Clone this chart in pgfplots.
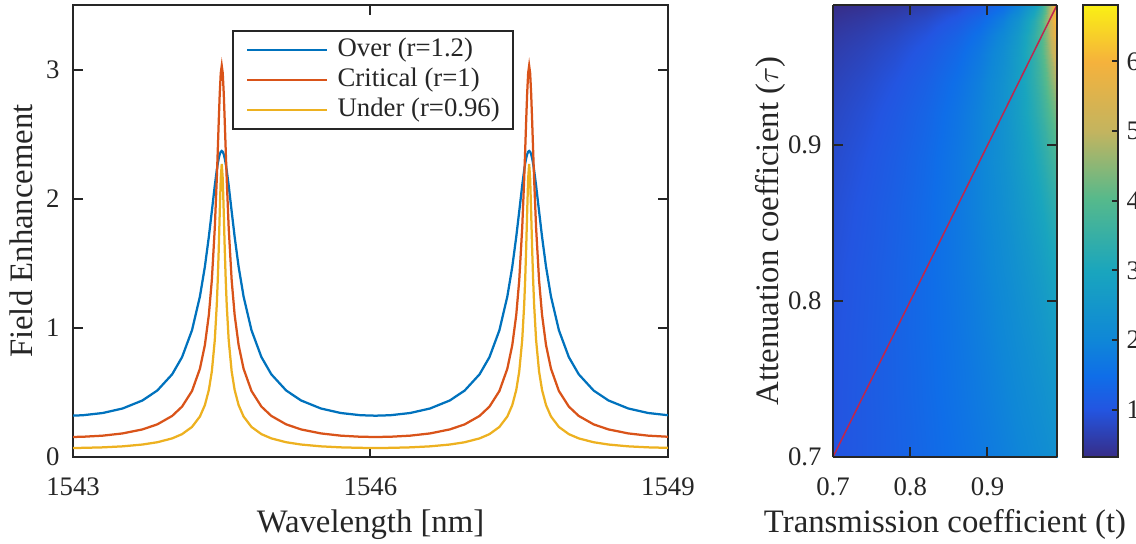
\documentclass[border=0pt]{standalone}
\usepackage{fontspec}
\setmainfont{Liberation Serif}
\usepackage{pgfplots}
\usepackage{pgfplotstable}
\pgfplotsset{compat=1.18}
\definecolor{mblue}{rgb}{0,0.447,0.741}
\definecolor{mred}{rgb}{0.85,0.325,0.098}
\definecolor{myel}{rgb}{0.929,0.694,0.125}
\definecolor{axc}{rgb}{0.15,0.15,0.15}
\definecolor{diag}{rgb}{0.75,0.15,0.3}
\pgfplotsset{/pgf/number format/assume math mode=true}

\pgfplotstableread{
x blue red yellow
1543.00 0.3203 0.1552 0.0701
1543.10 0.3235 0.1568 0.0708
1543.30 0.3407 0.1653 0.0747
1543.50 0.3756 0.1826 0.0825
1543.70 0.4377 0.2136 0.0966
1543.85 0.5148 0.2527 0.1143
1544.00 0.6404 0.3181 0.1441
1544.10 0.7737 0.3904 0.1771
1544.20 0.9815 0.5111 0.2328
1544.28 1.2430 0.6839 0.3138
1544.33 1.4740 0.8673 0.4020
1544.37 1.7059 1.1009 0.5192
1544.40 1.9026 1.3689 0.6623
1544.43 2.1024 1.7750 0.9062
1544.45 2.2214 2.1548 1.1812
1544.46 2.2716 2.3764 1.3753
1544.47 2.3131 2.6058 1.6172
1544.48 2.3442 2.8175 1.8974
1544.49 2.3635 2.9724 2.1567
1544.50 2.3700 3.0300 2.2700
1544.51 2.3635 2.9724 2.1567
1544.52 2.3442 2.8175 1.8974
1544.53 2.3131 2.6058 1.6172
1544.54 2.2716 2.3764 1.3753
1544.55 2.2214 2.1548 1.1812
1544.57 2.1024 1.7750 0.9062
1544.60 1.9026 1.3689 0.6623
1544.63 1.7059 1.1009 0.5192
1544.67 1.4740 0.8673 0.4020
1544.72 1.2430 0.6839 0.3138
1544.80 0.9815 0.5111 0.2328
1544.90 0.7737 0.3904 0.1771
1545.00 0.6404 0.3181 0.1441
1545.15 0.5148 0.2527 0.1143
1545.30 0.4377 0.2136 0.0966
1545.50 0.3756 0.1826 0.0825
1545.70 0.3407 0.1653 0.0747
1545.90 0.3235 0.1568 0.0708
1546.05 0.3199 0.1550 0.0700
1546.20 0.3235 0.1568 0.0708
1546.40 0.3407 0.1653 0.0747
1546.60 0.3756 0.1826 0.0825
1546.80 0.4377 0.2136 0.0966
1546.95 0.5148 0.2527 0.1143
1547.10 0.6404 0.3181 0.1441
1547.20 0.7737 0.3904 0.1771
1547.30 0.9815 0.5111 0.2328
1547.38 1.2430 0.6839 0.3138
1547.43 1.4740 0.8673 0.4020
1547.47 1.7059 1.1009 0.5192
1547.50 1.9026 1.3689 0.6623
1547.53 2.1024 1.7750 0.9062
1547.55 2.2214 2.1548 1.1812
1547.56 2.2716 2.3764 1.3753
1547.57 2.3131 2.6058 1.6172
1547.58 2.3442 2.8175 1.8974
1547.59 2.3635 2.9724 2.1567
1547.60 2.3700 3.0300 2.2700
1547.61 2.3635 2.9724 2.1567
1547.62 2.3442 2.8175 1.8974
1547.63 2.3131 2.6058 1.6172
1547.64 2.2716 2.3764 1.3753
1547.65 2.2214 2.1548 1.1812
1547.67 2.1024 1.7750 0.9062
1547.70 1.9026 1.3689 0.6623
1547.73 1.7059 1.1009 0.5192
1547.77 1.4740 0.8673 0.4020
1547.82 1.2430 0.6839 0.3138
1547.90 0.9815 0.5111 0.2328
1548.00 0.7737 0.3904 0.1771
1548.10 0.6404 0.3181 0.1441
1548.25 0.5148 0.2527 0.1143
1548.40 0.4377 0.2136 0.0966
1548.60 0.3756 0.1826 0.0825
1548.80 0.3407 0.1653 0.0747
1549.00 0.3235 0.1568 0.0708
}\fetable

\pgfplotstableread{
t tau f
0.70 0.70 0.9802
0.74 0.70 1.0964
0.78 0.70 1.2269
0.82 0.70 1.3746
0.86 0.70 1.5431
0.89 0.70 1.6859
0.92 0.70 1.8455
0.94 0.70 1.9628
0.96 0.70 2.0902
0.97 0.70 2.1580
0.98 0.70 2.2288
0.99 0.70 2.3029
0.70 0.74 0.9768
0.74 0.74 1.1002
0.78 0.74 1.2409
0.82 0.74 1.4027
0.86 0.74 1.5909
0.89 0.74 1.7534
0.92 0.74 1.9386
0.94 0.74 2.0770
0.96 0.74 2.2297
0.97 0.74 2.3120
0.98 0.74 2.3987
0.99 0.74 2.4902
0.70 0.78 0.9649
0.74 0.78 1.0953
0.78 0.78 1.2465
0.82 0.78 1.4238
0.86 0.78 1.6348
0.89 0.78 1.8213
0.92 0.78 2.0387
0.94 0.78 2.2048
0.96 0.78 2.3915
0.97 0.78 2.4939
0.98 0.78 2.6030
0.99 0.78 2.7196
0.70 0.82 0.9405
0.74 0.82 1.0772
0.78 0.82 1.2387
0.82 0.82 1.4327
0.86 0.82 1.6697
0.89 0.82 1.8853
0.92 0.82 2.1440
0.94 0.82 2.3474
0.96 0.82 2.5821
0.97 0.82 2.7136
0.98 0.82 2.8560
0.99 0.82 3.0108
0.70 0.86 0.8975
0.74 0.86 1.0385
0.78 0.86 1.2091
0.82 0.86 1.4194
0.86 0.86 1.6853
0.89 0.86 1.9359
0.92 0.86 2.2484
0.94 0.86 2.5035
0.96 0.86 2.8089
0.97 0.86 2.9854
0.98 0.86 3.1812
0.99 0.86 3.3997
0.70 0.89 0.8466
0.74 0.89 0.9883
0.78 0.89 1.1630
0.82 0.89 1.3837
0.86 0.89 1.6715
0.89 0.89 1.9519
0.92 0.89 2.3150
0.94 0.89 2.6230
0.96 0.89 3.0063
0.97 0.89 3.2354
0.98 0.89 3.4964
0.99 0.89 3.7965
0.70 0.92 0.7706
0.74 0.92 0.9086
0.78 0.92 1.0825
0.82 0.92 1.3085
0.86 0.92 1.6142
0.89 0.92 1.9250
0.92 0.92 2.3474
0.94 0.92 2.7249
0.96 0.92 3.2212
0.97 0.92 3.5331
0.98 0.92 3.9033
0.99 0.92 4.3498
0.70 0.94 0.6983
0.74 0.94 0.8294
0.78 0.94 0.9974
0.82 0.94 1.2206
0.86 0.94 1.5314
0.89 0.94 1.8583
0.92 0.94 2.3216
0.94 0.94 2.7552
0.96 0.94 3.3558
0.97 0.94 3.7521
0.98 0.94 4.2430
0.99 0.94 4.8669
0.70 0.96 0.5976
0.74 0.96 0.7155
0.78 0.96 0.8694
0.82 0.96 1.0789
0.86 0.96 1.3807
0.89 0.96 1.7115
0.92 0.96 2.2055
0.94 0.96 2.6967
0.96 0.96 3.4286
0.97 0.96 3.9477
0.98 0.96 4.6351
0.99 0.96 5.5887
0.70 0.97 0.5301
0.74 0.97 0.6375
0.78 0.97 0.7790
0.82 0.97 0.9743
0.86 0.97 1.2610
0.89 0.97 1.5827
0.92 0.97 2.0785
0.94 0.97 2.5908
0.96 0.97 3.3921
0.97 0.97 3.9900
0.98 0.97 4.8227
0.99 0.97 6.0622
0.70 0.98 0.4436
0.74 0.98 0.5359
0.78 0.98 0.6588
0.82 0.98 0.8309
0.86 0.98 1.0887
0.89 0.98 1.3858
0.92 0.98 1.8606
0.94 0.98 2.3739
0.96 0.98 3.2270
0.97 0.98 3.9075
0.98 0.98 4.9247
0.99 0.98 6.6111
0.70 0.99 0.3217
0.74 0.99 0.3904
0.78 0.99 0.4830
0.82 0.99 0.6147
0.86 0.99 0.8164
0.89 0.99 1.0559
0.92 0.99 1.4549
0.94 0.99 1.9108
0.96 0.99 2.7304
0.97 0.99 3.4469
0.98 0.99 4.6393
0.99 0.99 7.0181
}\maptable

\newcommand{\tickfont}{\fontsize{10.7}{12}\selectfont}
\newcommand{\labfont}{\fontsize{13.1}{15}\selectfont}

\begin{document}
\begin{tikzpicture}
\begin{axis}[
  at={(29.2pt,34.4pt)}, anchor=south west, scale only axis,
  width=238pt, height=180.8pt,
  xmin=1543, xmax=1549, ymin=0, ymax=3.5,
  xtick={1543,1546,1549}, ytick={0,1,2,3},
  /pgf/number format/1000 sep={},
  tick align=inside, major tick length=4pt,
  axis line style={axc, line width=0.8pt},
  tick style={axc, line width=0.8pt},
  tick label style={font=\tickfont, text=axc},
  xticklabel style={anchor=base, yshift=-15.2pt},
  yticklabel style={anchor=east, inner sep=0pt, xshift=-5.2pt},
  xlabel={Wavelength [nm]}, ylabel={Field Enhancement},
  label style={font=\labfont, text=axc},
  xlabel style={at={(axis description cs:0.5,0)}, anchor=base, yshift=-30pt},
  ylabel style={at={([xshift=-16pt]axis description cs:0,0.5)}, anchor=base},
  legend style={at={(axis description cs:0.267,0.945)}, anchor=north west,
    draw=axc, line width=0.8pt, fill=white, font=\tickfont, text=axc,
    inner xsep=5.4pt, inner ysep=1.6pt, column sep=3.6pt,
    nodes={inner xsep=0pt, inner ysep=1pt, text height=7.5pt, text depth=2.5pt}},
  legend cell align=left,
  legend image code/.code={\draw[#1, line width=0.9pt] (0pt,0pt) -- (32pt,0pt);},
]
\addplot[mblue, line width=0.9pt] table[x=x, y=blue] {\fetable};
\addplot[mred, line width=0.9pt] table[x=x, y=red] {\fetable};
\addplot[myel, line width=0.9pt] table[x=x, y=yellow] {\fetable};
\legend{Over (r=1.2), Critical (r=1), Under (r=0.96)}
\end{axis}

\begin{axis}[
  at={(333.2pt,34.4pt)}, anchor=south west, scale only axis,
  width=89.6pt, height=180.8pt, view={0}{90},
  xmin=0.7, xmax=0.99, ymin=0.7, ymax=0.99,
  xtick={0.7,0.8,0.9}, ytick={0.7,0.8,0.9},
  xtick pos=both, ytick pos=both,
  xticklabel pos=left, yticklabel pos=left,
  xticklabel style={/pgf/number format/fixed, /pgf/number format/precision=1, /pgf/number format/fixed zerofill, anchor=base, yshift=-15.2pt},
  yticklabel style={/pgf/number format/fixed, /pgf/number format/precision=1, /pgf/number format/fixed zerofill, anchor=east, inner sep=0pt, xshift=-4.4pt},
  axis on top,
  tick align=inside, major tick length=4pt,
  axis line style={axc, line width=0.8pt},
  tick style={axc, line width=0.8pt},
  tick label style={font=\tickfont, text=axc},
  xlabel={Transmission coefficient (t)}, ylabel={Attenuation coefficient ($\tau$)},
  label style={font=\labfont, text=axc},
  xlabel style={at={(axis description cs:0.5,0)}, anchor=base, yshift=-30pt},
  ylabel style={at={([xshift=-22pt]axis description cs:0,0.5)}, anchor=base},
  colormap={refmap}{rgb255(0pt)=(55,45,135) rgb255(105pt)=(35,85,225) rgb255(180pt)=(15,110,232) rgb255(260pt)=(15,135,215) rgb255(410pt)=(25,165,190) rgb255(570pt)=(85,185,140) rgb255(720pt)=(195,180,95) rgb255(875pt)=(245,178,60) rgb255(1000pt)=(250,240,20)},
  point meta min=0.32, point meta max=6.81,
  colorbar,
  colorbar style={
    at={(parent axis.north east)}, anchor=north west, xshift=1.9pt,
    width=14pt, scale only axis,
    ytick={1,2,3,4,5,6},
    ytick pos=right, yticklabel pos=right,
    tick align=inside, major tick length=2.5pt,
    axis line style={axc, line width=0.8pt},
    tick style={axc, line width=0.8pt},
    yticklabel style={font=\tickfont, text=axc, anchor=west, inner sep=0pt, xshift=3.2pt},
  },
]
\addplot3[surf, shader=interp, mesh/cols=12, point meta=\thisrow{f}] table[x=t, y=tau, z=f] {\maptable};
\addplot3[color=diag, line width=0.6pt] coordinates {(0.7,0.7,8) (0.99,0.99,8)};
\end{axis}
\pgfresetboundingbox
\useasboundingbox (0,0) rectangle (454.4pt,217.2pt);
\end{tikzpicture}
\end{document}
